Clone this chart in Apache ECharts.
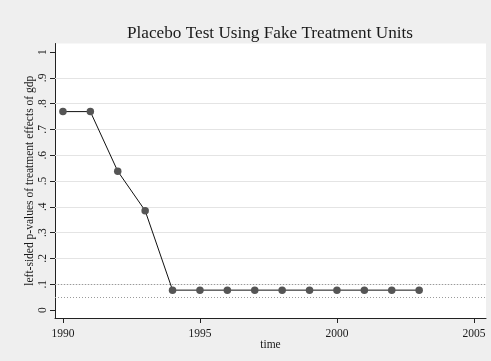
<!DOCTYPE html>
<html>
<head>
<meta charset="utf-8">
<style>
  html, body { margin: 0; padding: 0; background: #efefef; }
  #chart { width: 491px; height: 361px; }
</style>
<script src="https://cdn.jsdelivr.net/npm/echarts@6/dist/echarts.min.js"></script>
</head>
<body>
<div id="chart"></div>
<script>
// Placebo test: left-sided p-values of the treatment effect on gdp, by year
const years = [1990, 1991, 1992, 1993, 1994, 1995, 1996, 1997, 1998, 1999, 2000, 2001, 2002, 2003];
const pValues = [0.769, 0.769, 0.538, 0.385, 0.077, 0.077, 0.077, 0.077, 0.077, 0.077, 0.077, 0.077, 0.077, 0.077];

const xTicks = [1990, 1995, 2000, 2005];
const yTicks = [0, 0.1, 0.2, 0.3, 0.4, 0.5, 0.6, 0.7, 0.8, 0.9, 1];
const yGridValues = [0.1, 0.2, 0.3, 0.4, 0.5, 0.6, 0.7, 0.8, 0.9];
const significanceLevels = [0.1, 0.05];

const serif = '"Liberation Serif", "DejaVu Serif", serif';
const chart = echarts.init(document.getElementById('chart'), null, { renderer: 'canvas' });

function yLabel(v) {
  const r = Math.round(v * 10) / 10;
  if (r === 0) return '0';
  if (r === 1) return '1';
  return '.' + Math.round(r * 10);
}

chart.setOption({
  backgroundColor: '#efefef',
  animation: false,
  title: {
    text: 'Placebo Test Using Fake Treatment Units',
    left: 122,
    top: 20,
    textStyle: { fontFamily: serif, fontWeight: 'normal', fontSize: 17.2, color: '#1a1a1a' }
  },
  grid: {
    left: 55, right: 5, top: 43.5, bottom: 43,
    show: true, backgroundColor: '#ffffff', borderWidth: 0,
    containLabel: false, outerBoundsMode: 'none'
  },
  xAxis: {
    type: 'value',
    min: 1989.71, max: 2005.44,
    name: 'time',
    nameLocation: 'middle',
    nameGap: 21,
    nameMoveOverlap: false,
    nameTextStyle: { fontFamily: serif, fontSize: 11.5, color: '#1a1a1a' },
    axisLine: { show: true, onZero: false, lineStyle: { color: '#222', width: 1 } },
    axisTick: { show: true, length: 5, customValues: xTicks, lineStyle: { color: '#222' } },
    axisLabel: {
      customValues: xTicks, margin: 10,
      fontFamily: serif, fontSize: 11.5, color: '#1a1a1a',
      formatter: v => String(v)
    },
    splitLine: { show: false }
  },
  yAxis: {
    type: 'value',
    min: -0.031, max: 1.033,
    name: 'left-sided p-values of treatment effects of gdp',
    nameLocation: 'middle',
    nameGap: 19,
    nameMoveOverlap: false,
    nameTextStyle: { fontFamily: serif, fontSize: 11.5, color: '#1a1a1a' },
    axisLine: { show: true, onZero: false, lineStyle: { color: '#222', width: 1 } },
    axisTick: { show: true, length: 5, customValues: yTicks, lineStyle: { color: '#222' } },
    axisLabel: {
      customValues: yTicks, rotate: 90, margin: 6,
      fontFamily: serif, fontSize: 11.5, color: '#1a1a1a',
      formatter: yLabel
    },
    splitLine: { show: false }
  },
  series: [
    {
      // light horizontal grid lines
      type: 'line',
      data: [],
      silent: true,
      markLine: {
        symbol: 'none', silent: true, label: { show: false },
        lineStyle: { color: '#e4e4e4', type: 'solid', width: 1.2 },
        data: yGridValues.map(v => ({ yAxis: v }))
      }
    },
    {
      // reference significance levels
      type: 'line',
      data: [],
      silent: true,
      markLine: {
        symbol: 'none', silent: true, label: { show: false },
        lineStyle: { color: '#9a9a9a', type: [1, 2], width: 1 },
        data: significanceLevels.map(v => ({ yAxis: v }))
      }
    },
    {
      type: 'line',
      data: years.map((y, i) => [y, pValues[i]]),
      symbol: 'circle',
      symbolSize: 7.5,
      lineStyle: { color: '#111', width: 1 },
      itemStyle: { color: '#555555' },
      z: 5
    }
  ]
});
</script>
</body>
</html>
